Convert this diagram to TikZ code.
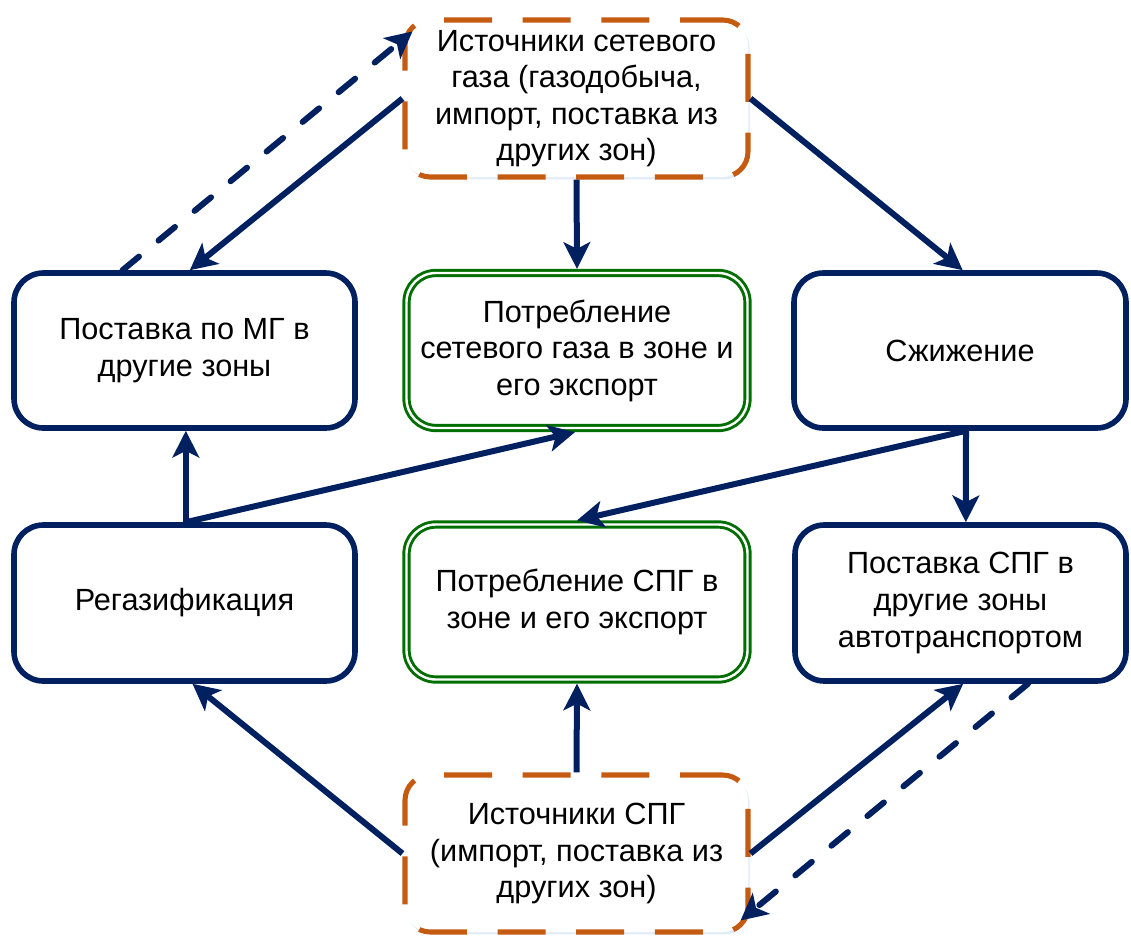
\documentclass[tikz,border=0pt]{standalone}
\usepackage{fontspec}
\setmainfont{Liberation Sans}
\usetikzlibrary{arrows.meta,calc,shadows}
\definecolor{navy}{RGB}{0,32,96}
\definecolor{orng}{RGB}{197,90,17}
\definecolor{grn}{RGB}{0,110,0}
\definecolor{shad}{RGB}{170,200,235}
\begin{document}
\begin{tikzpicture}[x=0.75pt,y=-0.75pt,
  txt/.style={font=\fontsize{23}{27.4}\selectfont, align=center, text=black, inner sep=0pt},
  shd/.style={drop shadow={shadow xshift=1.2pt, shadow yshift=-1.8pt, opacity=0.35, fill=shad}},
  navybox/.style 2 args={txt, shd, draw=navy, line width=4.2pt, rounded corners=22pt, fill=white, minimum width=#1, minimum height=#2},
  grnbox/.style 2 args={txt, shd, draw=grn, line width=2.2pt, double=white, double distance=1.8pt, outer sep=3.1pt, rounded corners=22pt, fill=white, minimum width=#1, minimum height=#2},
  srcbox/.style 2 args={txt, shd, draw=orng, line width=3.8pt, dash pattern=on 36pt off 23pt, dash phase=4pt, rounded corners=19pt, fill=white, minimum width=#1, minimum height=#2},
  arr/.style={draw=navy, line width=4.5pt, -{Stealth[length=20pt,width=20pt,inset=5pt]}},
  darr/.style={arr, dash pattern=on 16pt off 19pt, line cap=round}
]
\useasboundingbox (0,0) rectangle (1131,935);

\node[navybox={255.75pt}{116.25pt}] (mg) at (184.5,350.5) {Поставка по МГ в\\другие зоны};
\node[grnbox={255.75pt}{116.25pt}] (cons1) at (577,350.5) {Потребление\\сетевого газа в зоне и\\его экспорт};
\node[navybox={249pt}{116.25pt}] (liq) at (960,350.5) {Сжижение};
\node[navybox={255.75pt}{117pt}] (regas) at (184.5,603) {Регазификация};
\node[grnbox={255.75pt}{116.25pt}] (cons2) at (577,602) {Потребление СПГ в\\зоне и его экспорт};
\node[navybox={248.25pt}{117pt}] (lng) at (960.5,603) {Поставка СПГ в\\другие зоны\\автотранспортом};
\node[srcbox={257.25pt}{117.75pt}] (src1) at (576.5,98.5) {Источники сетевого\\газа (газодобыча,\\импорт, поставка из\\других зон)};
\node[srcbox={257.25pt}{117.75pt}] (src2) at (576.5,853.5) {Источники СПГ\\(импорт, поставка из\\других зон)};

\draw[arr] (src1.south) -- (cons1.north);
\draw[arr] (src1.west) -- ([xshift=4pt]mg.north);
\draw[darr] ([xshift=-46.5pt]mg.north) -- ($(src1.north west)+(10,14)$);
\draw[arr] (src1.east) -- ([xshift=2pt]liq.north);
\draw[arr] ([xshift=4.5pt]liq.south) -- ([xshift=4pt]lng.north);
\draw[arr] ([xshift=4.5pt]liq.south) -- (cons2.north);
\draw[arr] ([xshift=1pt]regas.north) -- ([xshift=1pt]mg.south);
\draw[arr] ([xshift=1pt]regas.north) -- ([xshift=-1.5pt]cons1.south);
\draw[arr] (src2.west) -- ([xshift=6pt]regas.south);
\draw[arr] (src2.north) -- (cons2.south);
\draw[arr] (src2.east) -- ([xshift=2pt]lng.south);
\draw[darr] ([xshift=50.6pt]lng.south) -- ($(src2.south east)+(-10,-14)$);
\end{tikzpicture}
\end{document}
